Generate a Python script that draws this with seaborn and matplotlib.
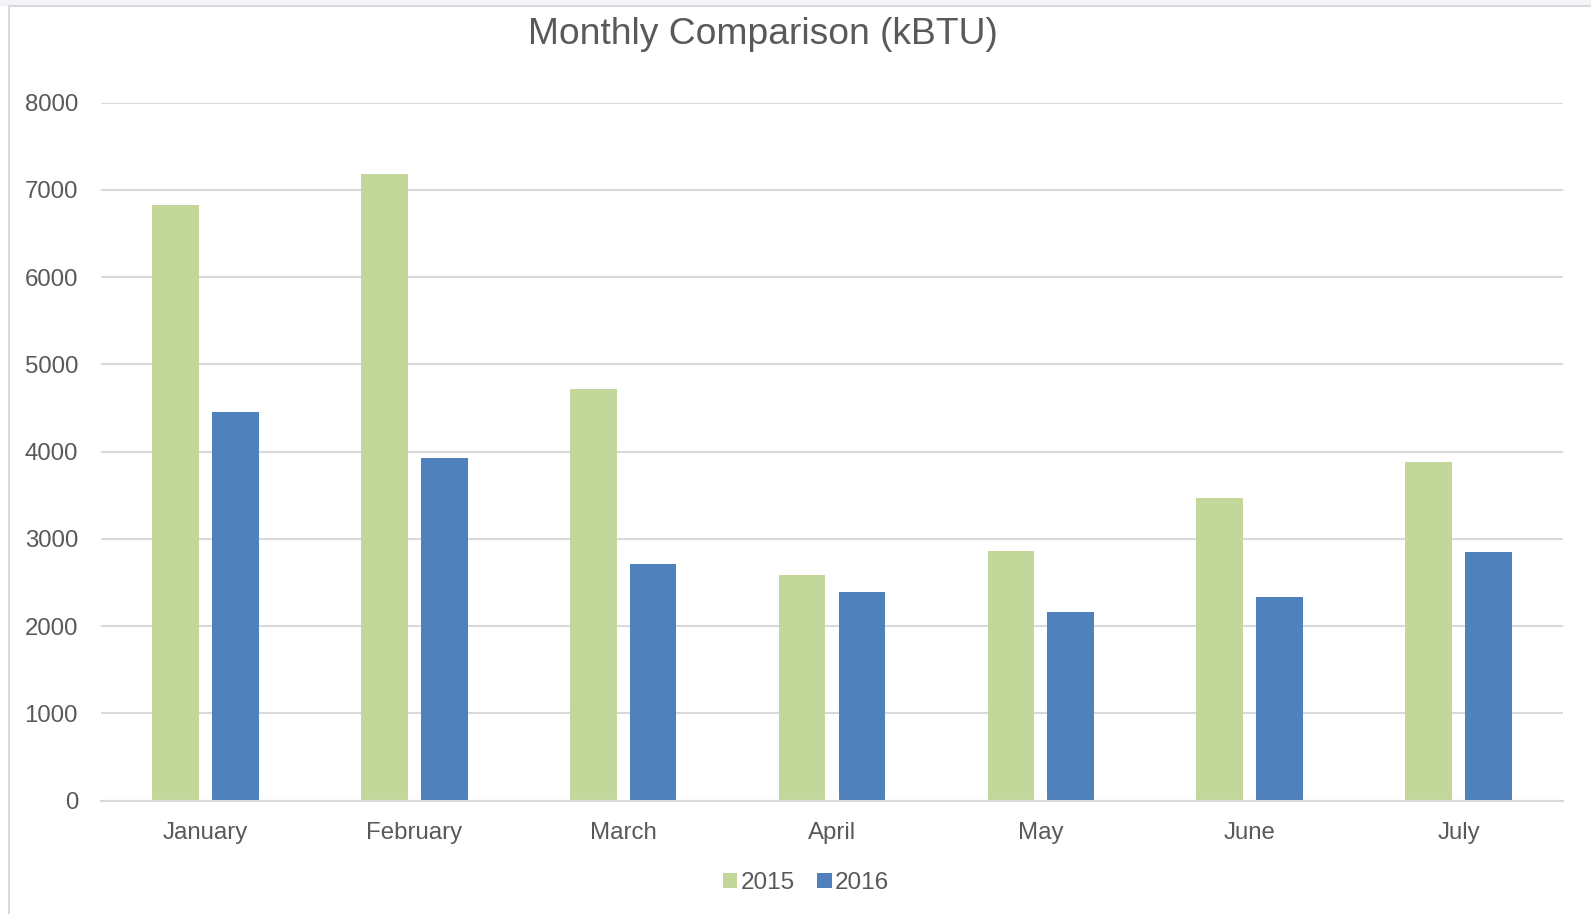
import matplotlib
matplotlib.use("Agg")
import matplotlib.pyplot as plt
import seaborn as sns
import pandas as pd
from matplotlib.patches import Rectangle
from matplotlib.lines import Line2D

months = ["January", "February", "March", "April", "May", "June", "July"]
series_names = ["2015", "2016"]
values_2015 = [6830, 7180, 4715, 2590, 2860, 3475, 3880]
values_2016 = [4460, 3930, 2710, 2395, 2165, 2335, 2850]
y_ticks = [0, 1000, 2000, 3000, 4000, 5000, 6000, 7000, 8000]

df = pd.DataFrame({
    "Month": months * 2,
    "Year": [series_names[0]] * len(months) + [series_names[1]] * len(months),
    "kBTU": values_2015 + values_2016,
})

sns.set_theme(style="white")
plt.rcParams['font.family'] = ['Liberation Sans', 'DejaVu Sans']
text_color = "#595959"
grid_color = "#D9D9D9"
palette = {"2015": "#C4D79B", "2016": "#4F81BD"}

W, H = 1591, 914
fig = plt.figure(figsize=(W / 100, H / 100), dpi=100)
fig.patch.set_facecolor("white")

# screenshot-like frame
fig.add_artist(Rectangle((0, 1 - 6 / H), 1, 6 / H, transform=fig.transFigure,
                         facecolor="#F2F4F7", edgecolor="none", zorder=0))
fig.add_artist(Line2D([9 / W, 9 / W], [0, 1 - 6 / H], transform=fig.transFigure,
                      color="#D9D9D9", lw=1.5))
fig.add_artist(Line2D([9 / W, 1], [1 - 6 / H, 1 - 6 / H], transform=fig.transFigure,
                      color="#D9D9D9", lw=1.5))

left, right = 101 / W, 1563 / W
bottom, top = 1 - 800.7 / H, 1 - 102.7 / H
ax = fig.add_axes([left, bottom, right - left, top - bottom])

sns.barplot(data=df, x="Month", y="kBTU", hue="Year", palette=palette,
            width=0.573, gap=0.22, linewidth=0, saturation=1, ax=ax, legend=False)

ax.set_ylim(0, 8000)
ax.set_xlim(-0.5, len(months) - 0.5)
ax.set_yticks(y_ticks)
ax.set_yticklabels([str(t) for t in y_ticks])
ax.yaxis.grid(True, color=grid_color, linewidth=1.5)
ax.set_axisbelow(True)
for s in ["top", "right", "left"]:
    ax.spines[s].set_visible(False)
ax.spines["bottom"].set_color(grid_color)
ax.spines["bottom"].set_linewidth(1.5)
ax.tick_params(axis="both", length=0, labelsize=17.3, colors=text_color)
ax.tick_params(axis="y", pad=16.5)
ax.tick_params(axis="x", pad=15)
ax.set_xlabel("")
ax.set_ylabel("")

fig.text(763 / W, 1 - 35 / H, "Monthly Comparison (kBTU)", ha="center", va="center",
         fontsize=26.8, color=text_color)

handles = [Rectangle((0, 0), 1, 1, facecolor=palette[n], edgecolor="none") for n in series_names]
leg = fig.legend(handles, series_names, loc="center", bbox_to_anchor=(806 / W, 1 - 883 / H),
                 ncol=2, frameon=False, fontsize=17.5, handlelength=0.6, handleheight=0.6,
                 handletextpad=0.15, columnspacing=0.9)
for t in leg.get_texts():
    t.set_color(text_color)

fig.savefig("out.png", dpi=100, facecolor="white")
